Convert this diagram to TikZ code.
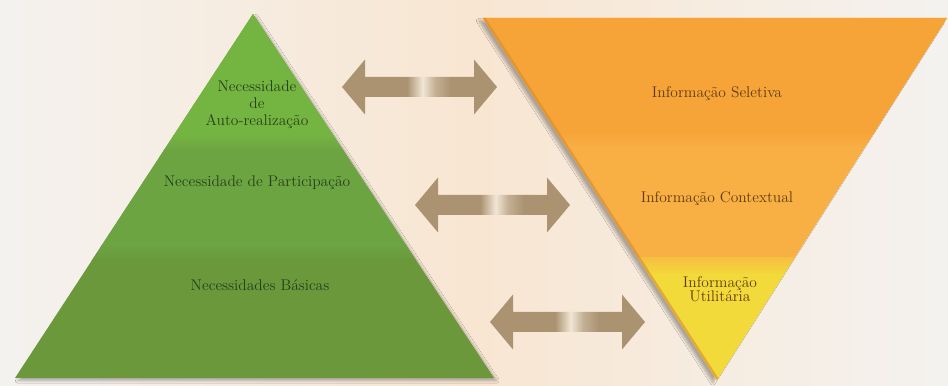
\documentclass[tikz,border=0pt]{standalone}
\usetikzlibrary{shadows.blur}
\definecolor{pagewhite}{HTML}{F4F2EF}
\definecolor{pagepeach}{HTML}{F8E6D2}
\definecolor{greentop}{HTML}{74B441}
\definecolor{greenmid}{HTML}{6CA442}
\definecolor{greenlow}{HTML}{6A983B}
\definecolor{greentext}{HTML}{26401A}
\definecolor{orangetop}{HTML}{F6A438}
\definecolor{orangemid}{HTML}{F8AF44}
\definecolor{orangeedge}{HTML}{D98A22}
\definecolor{yellowlow}{HTML}{F2DA3A}
\definecolor{orangetext}{HTML}{5E3C10}
\definecolor{arrowtan}{HTML}{AB9372}
\definecolor{arrowshine}{HTML}{F1E6D4}
\pgfdeclarehorizontalshading{tanshine}{100bp}{color(0bp)=(arrowtan); color(46bp)=(arrowtan); color(51bp)=(arrowshine); color(55bp)=(arrowtan!65!arrowshine); color(60bp)=(arrowtan); color(100bp)=(arrowtan)}
\begin{document}
\begin{tikzpicture}[x=0.025cm,y=-0.025cm,line join=round,
  label/.style={font=\fontsize{11}{13}\selectfont,align=center,inner sep=0pt},
  needtext/.style={label,text=greentext},
  infotext/.style={label,text=orangetext},
  softshadow/.style={blur shadow={shadow xshift=#1,shadow yshift=-2pt,shadow blur steps=10,shadow opacity=30}}]
  \useasboundingbox (0,0) rectangle (948,386);
  % Page, tinted between the two pyramids.
  \shade[left color=pagewhite,right color=pagewhite,middle color=pagepeach] (0,0) rectangle (948,386);
  % Pyramid of needs.
  \path[softshadow=2pt,fill=greenlow] (253,14)--(15,378)--(494,378)--cycle;
  \begin{scope}
    \clip (253,14)--(15,378)--(494,378)--cycle;
    \fill[greentop] (0,0) rectangle (500,136);
    \shade[top color=greentop,bottom color=greenmid] (0,135) rectangle (500,151);
    \fill[greenmid] (0,150) rectangle (500,246);
    \shade[top color=greenmid,bottom color=greenlow] (0,245) rectangle (500,261);
  \end{scope}
  \node[needtext] (selfreal) at (257,105) {Necessidade\\[-1pt]de\\[-1pt]Auto-realização};
  \node[needtext] (particip) at (257,183) {Necessidade de Participação};
  \node[needtext] (basic) at (260,285) {Necessidades Básicas};
  % Inverted pyramid of information.
  \path[softshadow=-3pt,fill=orangemid] (483,18)--(947,18)--(717,380)--cycle;
  \begin{scope}
    \clip (483,18)--(947,18)--(717,380)--cycle;
    \fill[orangetop] (470,0) rectangle (948,134);
    \shade[top color=orangetop,bottom color=orangemid] (470,133) rectangle (948,147);
    \shade[top color=orangemid!60!yellowlow,bottom color=yellowlow] (470,258) rectangle (948,275);
    \fill[yellowlow] (470,274) rectangle (948,386);
    \draw[orangeedge,line width=3pt,opacity=.6] (483,18)--(717,380);
  \end{scope}
  \node[infotext] (selective) at (717,94) {Informação Seletiva};
  \node[infotext] (context) at (717,199) {Informação Contextual};
  \node[infotext] (utility) at (720,289) {Informação\\[-3pt]Utilitária};
  % Double arrows between the levels.
  \foreach \xa/\ya in {342/87,415/205,490/322}{
    \shade[shading=tanshine] (\xa,\ya) --++(23,-27.5) --++(0,17.5) --++(109,0) --++(0,-17.5)
      --++(23,27.5) --++(-23,27.5) --++(0,-17.5) --++(-109,0) --++(0,17.5) --cycle;
  }
\end{tikzpicture}
\end{document}
